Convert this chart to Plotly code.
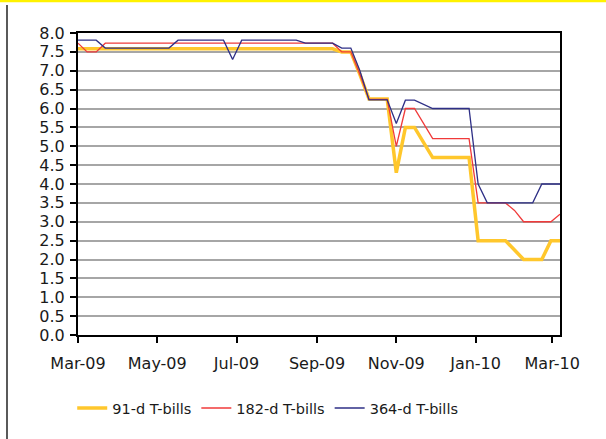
import pandas as pd
import plotly.graph_objects as go

# Weekly auction dates (Sundays), Mar-2009 .. Mar-2010
dates = pd.date_range("2009-03-01", periods=54, freq="7D")

t91 = [7.58, 7.58, 7.58, 7.58, 7.58, 7.58, 7.58, 7.58, 7.58, 7.58,
       7.58, 7.58, 7.58, 7.58, 7.58, 7.58, 7.58, 7.58, 7.58, 7.58,
       7.58, 7.58, 7.58, 7.58, 7.58, 7.58, 7.58, 7.58, 7.58, 7.50,
       7.50, 6.90, 6.25, 6.25, 6.25, 4.30, 5.50, 5.50, 5.10, 4.70,
       4.70, 4.70, 4.70, 4.70, 2.50, 2.50, 2.50, 2.50, 2.25, 2.00,
       2.00, 2.00, 2.50, 2.50]

t182 = [7.73, 7.50, 7.50, 7.73, 7.73, 7.73, 7.73, 7.73, 7.73, 7.73,
        7.73, 7.73, 7.73, 7.73, 7.73, 7.73, 7.73, 7.73, 7.73, 7.73,
        7.73, 7.73, 7.73, 7.73, 7.73, 7.73, 7.73, 7.73, 7.73, 7.50,
        7.50, 6.90, 6.24, 6.24, 6.24, 5.00, 6.00, 6.00, 5.60, 5.20,
        5.20, 5.20, 5.20, 5.20, 3.50, 3.50, 3.50, 3.50, 3.30, 3.00,
        3.00, 3.00, 3.00, 3.20]

t364 = [7.81, 7.81, 7.81, 7.60, 7.60, 7.60, 7.60, 7.60, 7.60, 7.60,
        7.60, 7.81, 7.81, 7.81, 7.81, 7.81, 7.81, 7.30, 7.81, 7.81,
        7.81, 7.81, 7.81, 7.81, 7.81, 7.73, 7.73, 7.73, 7.73, 7.60,
        7.60, 7.00, 6.23, 6.23, 6.23, 5.60, 6.22, 6.22, 6.10, 6.00,
        6.00, 6.00, 6.00, 6.00, 4.00, 3.50, 3.50, 3.50, 3.50, 3.50,
        3.50, 4.00, 4.00, 4.00]

series_names = ["91-d T-bills", "182-d T-bills", "364-d T-bills"]
colors = ["#FFC72C", "#F03A3A", "#2E2F86"]
widths = [3.5, 1.3, 1.3]

FONT = "DejaVu Sans"

fig = go.Figure()
for name, vals, c, w in zip(series_names, [t91, t182, t364], colors, widths):
    fig.add_trace(go.Scatter(x=dates, y=vals, name=name, mode="lines",
                             line=dict(color=c, width=w)))

fig.update_layout(
    width=606, height=439,
    margin=dict(l=78, r=46, t=33, b=104),
    paper_bgcolor="white", plot_bgcolor="white",
    font=dict(family=FONT, size=16, color="#1a1a1a"),
    showlegend=True,
    legend=dict(orientation="h", x=-0.012, xanchor="left", y=-0.242, yanchor="middle",
                font=dict(size=14.5), itemwidth=30, tracegroupgap=0, bgcolor="rgba(0,0,0,0)"),
    xaxis=dict(type="date", range=["2009-03-01", "2010-03-07"],
               tick0="2009-03-01", dtick="M2", tickformat="%b-%y",
               ticks="outside", ticklen=6, tickcolor="black", tickwidth=1.5,
               showline=True, linecolor="black", linewidth=2, mirror=True,
               showgrid=False, zeroline=False, ticklabelstandoff=7),
    yaxis=dict(range=[0, 8], dtick=0.5, tickformat=".1f",
               ticks="outside", ticklen=6, tickcolor="black", tickwidth=1.5,
               showline=True, linecolor="black", linewidth=2, mirror=True,
               showgrid=True, gridcolor="#A6A6A6", gridwidth=2, zeroline=False,
               ticklabelstandoff=2),
    shapes=[
        dict(type="line", xref="paper", yref="paper", x0=-0.2, x1=1.2,
             y0=1.107, y1=1.107, line=dict(color="#FFF200", width=3)),
        dict(type="line", xref="paper", yref="paper", x0=-0.1473, x1=-0.1473,
             y0=1.093, y1=-0.35, line=dict(color="black", width=1.3)),
    ],
)

fig.write_html("out.html", config={"displayModeBar": False},
               post_script="document.body.style.margin='0';")
